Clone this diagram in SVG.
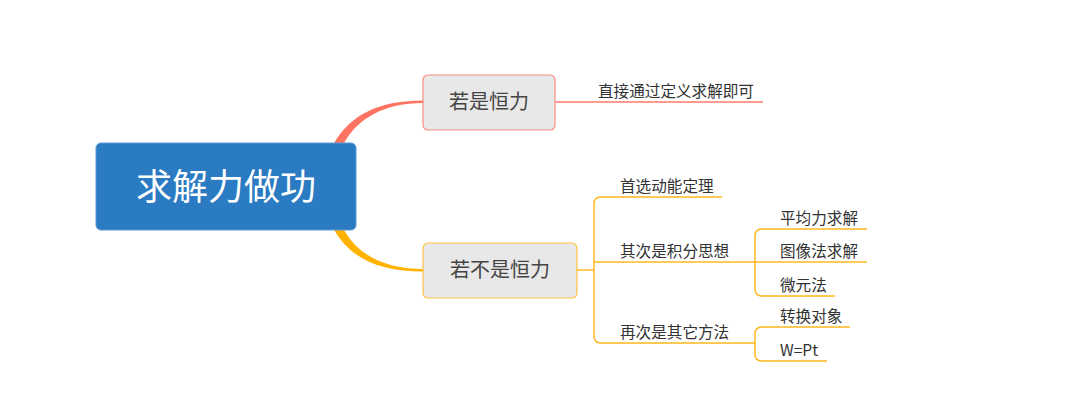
<svg xmlns="http://www.w3.org/2000/svg" width="1080" height="404" viewBox="0 0 1080 404">
<style>
.cjk{font-family:"Noto Sans CJK SC","Liberation Sans",sans-serif;}
.t{font-size:15.6px;fill:#333;}
.nt{font-size:20px;fill:#444;}
.r{fill:none;stroke:#FF7B6A;stroke-width:1.5;}
.y{fill:none;stroke:#FFB81E;stroke-width:1.5;}
</style>
<rect width="1080" height="404" fill="#fff"/>
<g id="connectors">
<path d="M333,145 C350,114 380,100.5 423,100.5 L423,103 C385,103 357,118 343,145 Z" fill="#FF7361"/>
<path d="M333,228 C350,259 380,271.5 423,271.5 L423,269 C385,269 357,255 343,228 Z" fill="#FFB300"/>
<path class="r" d="M555,102 H763"/>
<path class="y" d="M577,270 H594"/>
<path class="y" d="M722,197 H601 Q594,197 594,204 V336 Q594,343 601,343 H755"/>
<path class="y" d="M594,262 H755"/>
<path class="y" d="M867,229 H762 Q755,229 755,236 V289 Q755,296 762,296 H835"/>
<path class="y" d="M755,262 H867"/>
<path class="y" d="M850,327 H762 Q755,327 755,334 V354 Q755,361 762,361 H827"/>
</g>
<g id="root">
<rect x="96" y="143" width="260" height="87" rx="5" fill="#2B7BC2" stroke="#5C9BD8" stroke-width="1"/>
<text class="cjk" x="226" y="200" font-size="36" fill="#fff" text-anchor="middle">求解力做功</text>
</g>
<g id="n-const">
<rect x="423" y="75" width="132" height="55" rx="5" fill="#E8E8E8" stroke="#F88C80" stroke-width="1.2"/>
<text class="cjk nt" x="489" y="109" text-anchor="middle">若是恒力</text>
</g>
<g id="n-direct">
<text class="cjk t" x="598" y="97">直接通过定义求解即可</text>
</g>
<g id="n-nonconst">
<rect x="423" y="243" width="154" height="55" rx="5" fill="#E8E8E8" stroke="#FFC240" stroke-width="1.2"/>
<text class="cjk nt" x="500" y="277" text-anchor="middle">若不是恒力</text>
</g>
<g id="n-kinetic"><text class="cjk t" x="620" y="192">首选动能定理</text></g>
<g id="n-integral"><text class="cjk t" x="620" y="257">其次是积分思想</text></g>
<g id="n-other"><text class="cjk t" x="620" y="338">再次是其它方法</text></g>
<g id="n-avg"><text class="cjk t" x="780" y="224">平均力求解</text></g>
<g id="n-graph"><text class="cjk t" x="780" y="257">图像法求解</text></g>
<g id="n-micro"><text class="cjk t" x="780" y="291">微元法</text></g>
<g id="n-convert"><text class="cjk t" x="780" y="322">转换对象</text></g>
<g id="n-wpt"><text class="cjk t" x="780" y="356">W=Pt</text></g>
</svg>
